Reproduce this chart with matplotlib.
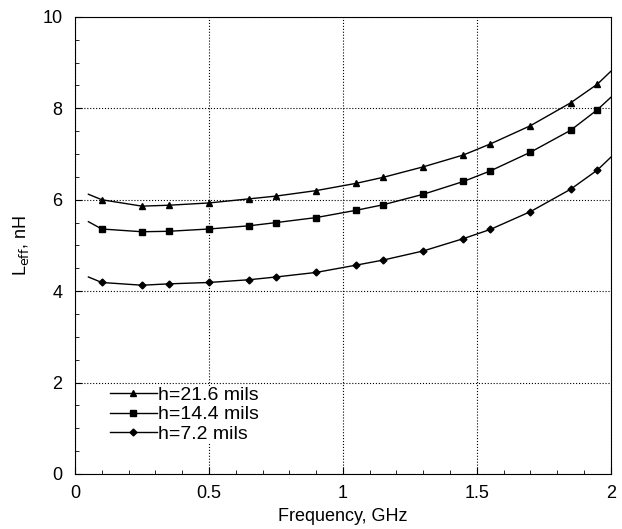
import numpy as np
import matplotlib
matplotlib.use("Agg")
import matplotlib.pyplot as plt
from matplotlib.ticker import MultipleLocator

plt.rcParams['font.family'] = ['Liberation Sans', 'DejaVu Sans']

# frequency points (GHz); first and last are curve ends without markers
freq = [0.05, 0.1, 0.25, 0.35, 0.5, 0.65, 0.75, 0.9, 1.05, 1.15, 1.3,
        1.45, 1.55, 1.7, 1.85, 1.95, 2.0]

# L_eff (nH) for each substrate thickness
l_216 = [6.12, 6.0, 5.86, 5.88, 5.93, 6.02, 6.08, 6.2, 6.36, 6.49, 6.72,
         6.98, 7.22, 7.62, 8.12, 8.53, 8.81]
l_144 = [5.52, 5.36, 5.30, 5.31, 5.36, 5.43, 5.50, 5.61, 5.77, 5.89, 6.12,
         6.40, 6.63, 7.04, 7.52, 7.97, 8.24]
l_72 = [4.31, 4.19, 4.13, 4.16, 4.19, 4.25, 4.31, 4.41, 4.57, 4.68, 4.88,
        5.15, 5.35, 5.74, 6.23, 6.65, 6.93]

labels = ["h=21.6 mils", "h=14.4 mils", "h=7.2 mils"]
markers = ["^", "s", "D"]
msizes = [5, 5, 3.5]

fig = plt.figure(figsize=(6.22, 5.29), dpi=100)
ax = fig.add_axes([0.1206, 0.104, 0.8614, 0.864])

marker_idx = list(range(1, len(freq) - 1))
for vals, lab, mk, ms in zip([l_216, l_144, l_72], labels, markers, msizes):
    ax.plot(freq, vals, color="black", lw=1.0, marker=mk, markersize=ms,
            markevery=marker_idx, label=lab)

ax.set_xlim(0, 2)
ax.set_ylim(0, 10)
ax.set_xticks([0, 0.5, 1, 1.5, 2])
ax.set_xticklabels(["0", "0.5", "1", "1.5", "2"])
ax.xaxis.set_minor_locator(MultipleLocator(0.1))
ax.yaxis.set_major_locator(MultipleLocator(2))
ax.yaxis.set_minor_locator(MultipleLocator(0.5))
ax.tick_params(which="both", direction="in", labelsize=13)
ax.tick_params(which="major", length=5, pad=8)
ax.tick_params(axis="y", which="major", pad=9)
ax.tick_params(which="minor", length=3)
ax.grid(True, which="major", linestyle=":", color="black", lw=0.8)

ax.set_xlabel("Frequency, GHz", fontsize=13, labelpad=4)
ax.set_ylabel(r"L$_{\rm eff}$, nH", fontsize=13, labelpad=8)

leg = ax.legend(loc="lower left", bbox_to_anchor=(0.065, 0.068), frameon=True,
                fontsize=14, handlelength=2.4, handletextpad=0.1,
                labelspacing=0.1, borderpad=0.0, borderaxespad=0.0)
leg.get_frame().set_edgecolor("none")
leg.get_frame().set_facecolor("white")
leg.get_frame().set_alpha(1)

fig.savefig("out.png", dpi=100)
